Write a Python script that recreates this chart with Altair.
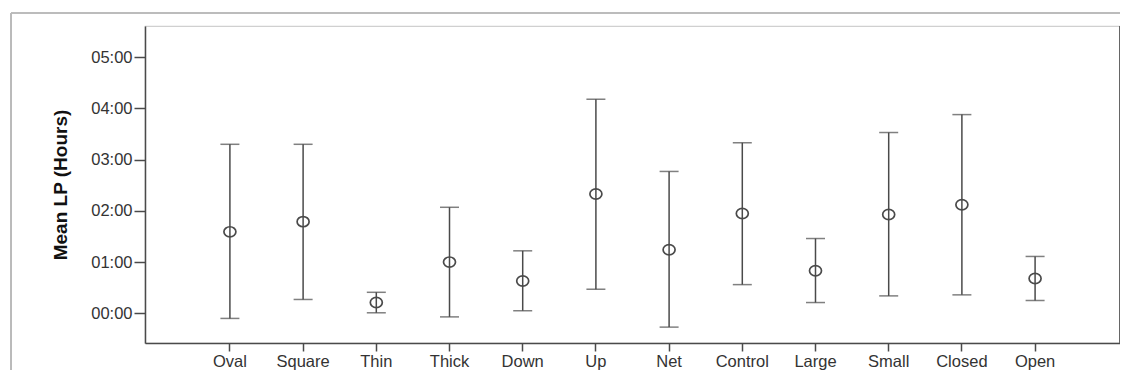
import altair as alt
import pandas as pd

categories = ["Oval", "Square", "Thin", "Thick", "Down", "Up", "Net",
              "Control", "Large", "Small", "Closed", "Open"]
means = [1.59, 1.79, 0.21, 1.00, 0.63, 2.33, 1.24, 1.95, 0.83, 1.93, 2.12, 0.68]
lower = [-0.10, 0.27, 0.01, -0.07, 0.05, 0.47, -0.27, 0.56, 0.21, 0.34, 0.36, 0.25]
upper = [3.30, 3.30, 0.41, 2.07, 1.22, 4.18, 2.77, 3.33, 1.46, 3.53, 3.88, 1.11]
y_ticks = [0, 1, 2, 3, 4, 5]

df = pd.DataFrame({"cat": categories, "mean": means, "lo": lower, "hi": upper})

FONT = "Liberation Sans"
LINE = "#4a4a4a"
ELLIPSE = "M-1,0A1,0.85,0,1,0,1,0A1,0.85,0,1,0,-1,0Z"

x = alt.X("cat:N", sort=categories,
          scale=alt.Scale(type="band", paddingInner=0, paddingOuter=0.66),
          axis=alt.Axis(title=None, labelAngle=0, labelFont=FONT, labelFontSize=16.5,
                        labelColor="#333", tickColor=LINE, tickSize=8, tickWidth=1.5,
                        domainColor=LINE, domainWidth=1.5, labelPadding=2))
yscale = alt.Scale(domain=[-0.58, 5.61], nice=False, zero=False)
yaxis = alt.Axis(title="Mean LP (Hours)", values=y_ticks, grid=False,
                 labelExpr="'0' + datum.value + ':00'",
                 labelFont=FONT, labelFontSize=16.5, labelColor="#333",
                 titleFont=FONT, titleFontSize=19, titleFontWeight="bold", titleColor="#111",
                 titlePadding=20, tickColor=LINE, tickSize=11, tickWidth=1.5,
                 domainColor=LINE, domainWidth=1.5, labelPadding=2)

base = alt.Chart(df)

rules = base.mark_rule(color=LINE, strokeWidth=1.5).encode(
    x=x, y=alt.Y("lo:Q", scale=yscale, axis=yaxis), y2="hi:Q")
cap_lo = base.mark_tick(color=LINE, size=19, thickness=1.5).encode(
    x=x, y=alt.Y("lo:Q", scale=yscale))
cap_hi = base.mark_tick(color=LINE, size=19, thickness=1.5).encode(
    x=x, y=alt.Y("hi:Q", scale=yscale))
pts = base.mark_point(shape=ELLIPSE, filled=False, stroke=LINE,
                      strokeWidth=1.7, size=144, opacity=1).encode(
    x=x, y=alt.Y("mean:Q", scale=yscale))

right_border = alt.Chart(df).mark_rule(color="#666", strokeWidth=2).encode(
    x=alt.value(975), y=alt.value(0), y2=alt.value(317))
frame_top = alt.Chart(df).mark_rule(color="#bbbbbb", strokeWidth=1.2).encode(
    x=alt.value(-134), x2=alt.value(990), y=alt.value(-13))
frame_left = alt.Chart(df).mark_rule(color="#bbbbbb", strokeWidth=1.2).encode(
    x=alt.value(-134), y=alt.value(-13), y2=alt.value(345))

chart = alt.layer(frame_top, frame_left, rules, cap_lo, cap_hi, pts, right_border).properties(
    width=975, height=317,
    padding={"left": 137, "top": 18, "right": 0, "bottom": 27},
    autosize=alt.AutoSizeParams(type="none"),
    background="white",
).configure_view(stroke="#d0d0d0", strokeWidth=1.2)

chart.save("out.html", embed_options={"renderer": "svg", "actions": False})
